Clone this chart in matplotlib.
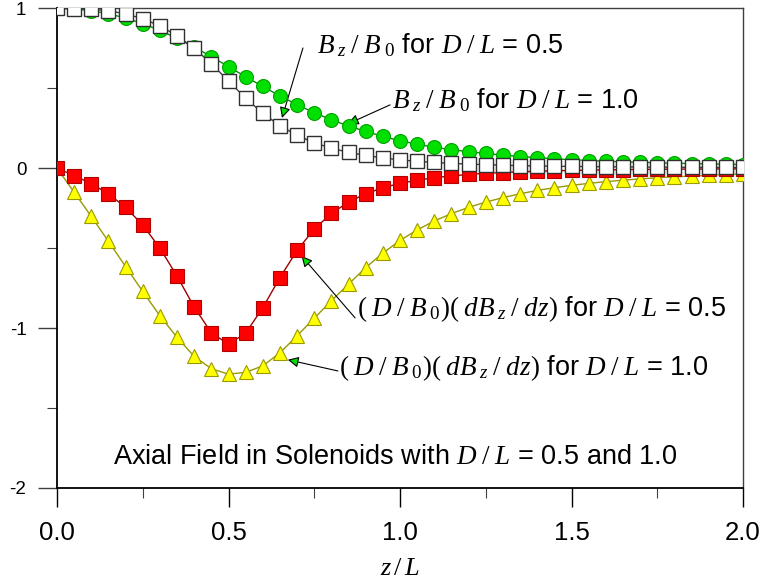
import matplotlib
matplotlib.use("Agg")
import matplotlib.pyplot as plt
from matplotlib.ticker import MultipleLocator, FixedLocator

plt.rcParams['font.family'] = ['Liberation Sans', 'DejaVu Sans']
plt.rcParams['mathtext.fontset'] = 'custom'
plt.rcParams['mathtext.rm'] = 'Liberation Serif'
plt.rcParams['mathtext.it'] = 'Liberation Serif:italic'

z = [i * 0.05 for i in range(41)]

bz_05 = [1.000, 0.998, 0.994, 0.985, 0.965, 0.935, 0.890, 0.828, 0.750, 0.654,
         0.545, 0.438, 0.343, 0.266, 0.205, 0.159, 0.125, 0.099, 0.080, 0.064,
         0.052, 0.043, 0.036, 0.030, 0.026, 0.022, 0.019, 0.016, 0.014, 0.012,
         0.011, 0.010, 0.009, 0.008, 0.007, 0.0065, 0.006, 0.0055, 0.005, 0.0047,
         0.0045]
bz_10 = [1.000, 0.996, 0.985, 0.966, 0.939, 0.904, 0.862, 0.812, 0.757, 0.698,
         0.635, 0.572, 0.511, 0.452, 0.397, 0.347, 0.303, 0.264, 0.230, 0.199,
         0.172, 0.150, 0.131, 0.116, 0.103, 0.092, 0.082, 0.073, 0.066, 0.059,
         0.053, 0.048, 0.044, 0.040, 0.037, 0.034, 0.031, 0.029, 0.027, 0.025,
         0.023]
dbz_05 = [0.000, -0.046, -0.097, -0.160, -0.245, -0.355, -0.500, -0.675, -0.868, -1.030,
          -1.100, -1.032, -0.872, -0.684, -0.514, -0.380, -0.283, -0.212, -0.160, -0.122,
          -0.095, -0.075, -0.060, -0.048, -0.039, -0.032, -0.027, -0.023, -0.019, -0.016,
          -0.014, -0.012, -0.010, -0.009, -0.008, -0.007, -0.006, -0.0055, -0.005, -0.0045,
          -0.004]
dbz_10 = [0.000, -0.150, -0.302, -0.458, -0.615, -0.771, -0.923, -1.058, -1.177, -1.254,
          -1.288, -1.277, -1.236, -1.155, -1.048, -0.938, -0.829, -0.725, -0.622, -0.531,
          -0.452, -0.386, -0.330, -0.284, -0.245, -0.212, -0.184, -0.160, -0.139, -0.122,
          -0.107, -0.095, -0.084, -0.075, -0.067, -0.060, -0.054, -0.049, -0.044, -0.040,
          -0.036]

xticks = [0.0, 0.5, 1.0, 1.5, 2.0]
xticklabels = ['0.0', '0.5', '1.0', '1.5', '2.0']
yticks = [-2, -1, 0, 1]
yticklabels = ['-2', '-1', '0', '1']

fig = plt.figure(figsize=(7.62, 5.86), dpi=100)
ax = fig.add_axes([57/762, 1 - 488/586, (743 - 57)/762, (488 - 8.3)/586])

ms = 10
ax.plot(z, dbz_10, '-', color='#9a9a00', lw=1.0, marker='^', ms=10.5,
        mfc='#ffff00', mec='#9a9a00', mew=0.8, zorder=3)
ax.plot(z, dbz_05, '-', color='#a00000', lw=1.0, marker='s', ms=ms,
        mfc='#ff0000', mec='#b00000', mew=0.8, zorder=4)
ax.plot(z, bz_10, '-', color='#009000', lw=1.0, marker='o', ms=ms,
        mfc='#00e000', mec='#00a000', mew=0.8, zorder=5)
ax.plot(z, bz_05, '-', color='#404040', lw=1.0, marker='s', ms=ms,
        mfc='white', mec='#303030', mew=1.0, zorder=6)

ax.set_xlim(0, 2)
ax.set_ylim(-2, 1)
ax.xaxis.set_major_locator(FixedLocator(xticks))
ax.set_xticklabels(xticklabels)
ax.xaxis.set_minor_locator(MultipleLocator(0.25))
ax.yaxis.set_major_locator(FixedLocator(yticks))
ax.set_yticklabels(yticklabels)
ax.yaxis.set_minor_locator(MultipleLocator(0.5))

ax.tick_params(axis='x', which='major', direction='out', length=14, width=1,
               labelsize=18.5, pad=10, color='black')
ax.tick_params(axis='x', which='minor', direction='out', length=7, width=0.8, color='#404040')
ax.tick_params(axis='y', which='major', direction='out', length=14, width=1,
               labelsize=13.5, pad=8, color='#404040')
ax.tick_params(axis='y', which='minor', direction='out', length=7, width=0.8, color='#404040')

for s in ['left', 'bottom']:
    ax.spines[s].set_linewidth(1.3)
    ax.spines[s].set_color('black')
for s in ['top', 'right']:
    ax.spines[s].set_linewidth(1.0)
    ax.spines[s].set_color('#404040')

ax.set_xlabel(r'$z\,/\,L$', fontsize=19, labelpad=8)

arrow = dict(arrowstyle='-|>', fc='#00e000', ec='black', lw=0.8,
             mutation_scale=16, shrinkA=0, shrinkB=0)

fs = 19.5
bz_lbl = r'$B_{\;z}\;/\;B_{\;0}$'
db_lbl = r'$(\;D\;/\;B_{\;0})(\;dB_{\;z}\;/\;dz)$'
dl_lbl = r'$D\;/\;L$'

ax.text(0.758, 0.77, bz_lbl + ' for ' + dl_lbl + ' = 0.5', fontsize=fs,
        ha='left', va='center')
ax.annotate('', xy=(0.656, 0.314), xytext=(0.717, 0.752), arrowprops=arrow)

ax.text(0.977, 0.427, bz_lbl + ' for ' + dl_lbl + ' = 1.0', fontsize=fs,
        ha='left', va='center')
ax.annotate('', xy=(0.848, 0.277), xytext=(0.971, 0.396), arrowprops=arrow)

ax.text(0.875, -0.88, db_lbl + ' for ' + dl_lbl + ' = 0.5',
        fontsize=fs, ha='left', va='center')
ax.annotate('', xy=(0.713, -0.549), xytext=(0.869, -0.936), arrowprops=arrow)

ax.text(0.822, -1.25, db_lbl + ' for ' + dl_lbl + ' = 1.0',
        fontsize=fs, ha='left', va='center')
ax.annotate('', xy=(0.673, -1.198), xytext=(0.819, -1.268), arrowprops=arrow)

ax.text(0.985, -1.805, 'Axial Field in Solenoids with ' + dl_lbl + ' = 0.5 and 1.0',
        fontsize=19.5, ha='center', va='center')

fig.savefig('out.png', dpi=100)
